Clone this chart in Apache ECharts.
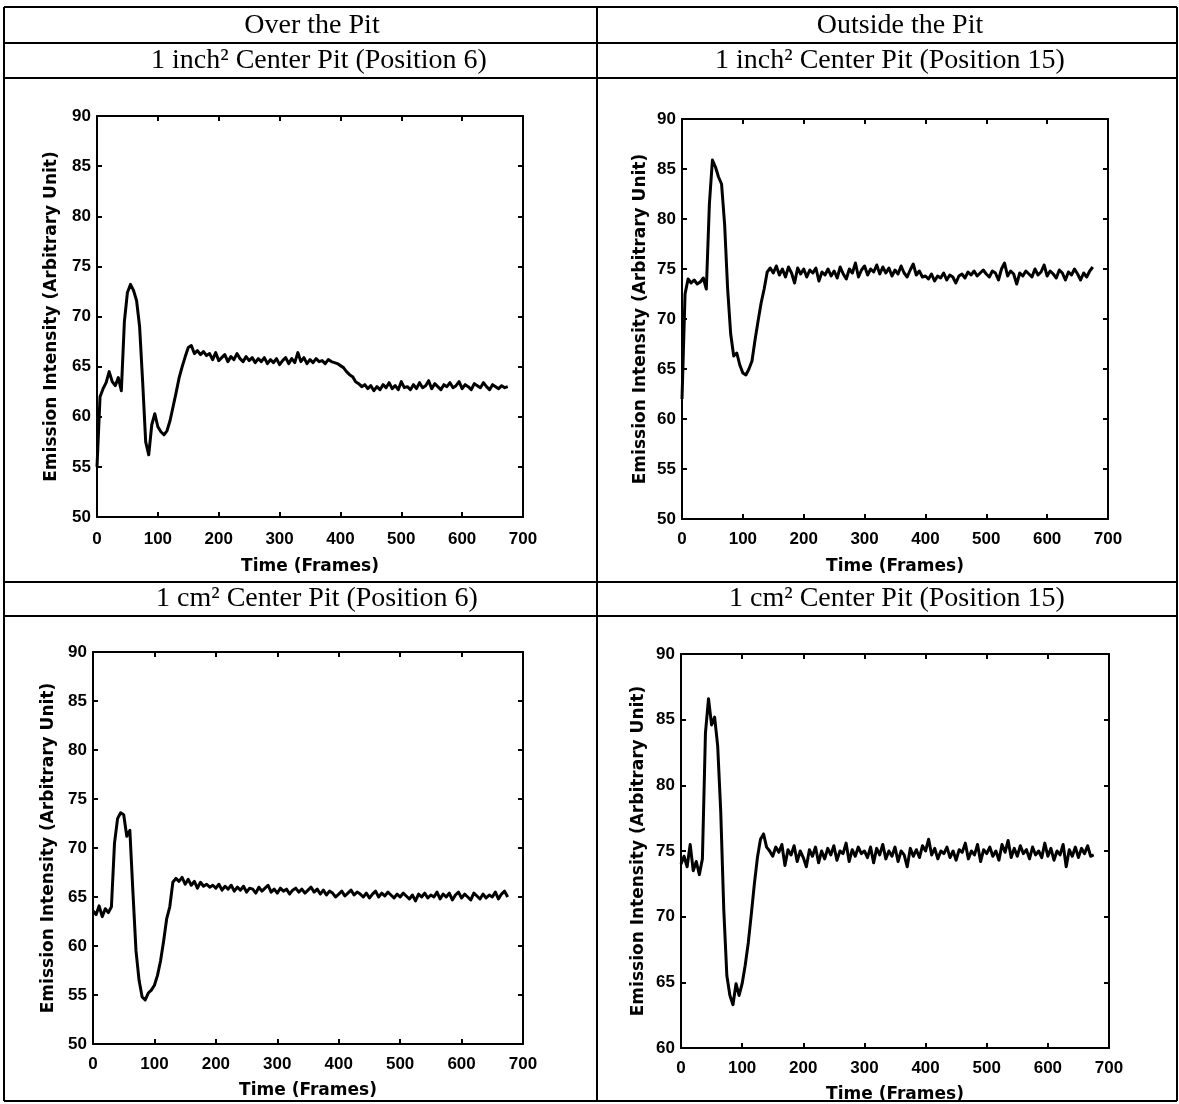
<!DOCTYPE html>
<html>
<head>
<meta charset="utf-8">
<title>Emission Intensity vs Time</title>
<script src="https://cdn.jsdelivr.net/npm/echarts@6/dist/echarts.min.js"></script>
<style>
  html, body { margin: 0; padding: 0; background: #fff; }
  #chart { width: 1179px; height: 1104px; }
</style>
</head>
<body>
<div id="chart"></div>
<script>
// Sampled frame numbers shared by all four traces
const frames = [
  0, 5, 10, 15, 20, 25, 30, 35, 40, 45,
  50, 55, 60, 65, 70, 75, 80, 85, 90, 95,
  100, 105, 110, 115, 120, 125, 130, 135, 140, 145,
  150, 155, 160, 165, 170, 175, 180, 185, 190, 195,
  200, 205, 210, 215, 220, 225, 230, 235, 240, 245,
  250, 255, 260, 265, 270, 275, 280, 285, 290, 295,
  300, 305, 310, 315, 320, 325, 330, 335, 340, 345,
  350, 355, 360, 365, 370, 375, 380, 385, 390, 395,
  400, 405, 410, 415, 420, 425, 430, 435, 440, 445,
  450, 455, 460, 465, 470, 475, 480, 485, 490, 495,
  500, 505, 510, 515, 520, 525, 530, 535, 540, 545,
  550, 555, 560, 565, 570, 575, 580, 585, 590, 595,
  600, 605, 610, 615, 620, 625, 630, 635, 640, 645,
  650, 655, 660, 665, 670, 675
];

// Over the pit, 1 inch² center pit (position 6)
const overPitInch = [
  55.0, 62.0, 62.8, 63.4, 64.5, 63.5, 63.1, 63.9, 62.6, 69.5,
  72.4, 73.2, 72.6, 71.6, 69.0, 63.5, 57.5, 56.2, 59.2, 60.3,
  59.0, 58.5, 58.2, 58.6, 59.6, 61.0, 62.4, 63.9, 65.0, 66.0,
  66.9, 67.1, 66.3, 66.6, 66.2, 66.5, 66.1, 66.3, 65.7, 66.4,
  65.6, 65.9, 66.2, 65.5, 66.0, 65.7, 66.3, 65.8, 65.5, 66.0,
  65.6, 65.9, 65.4, 65.8, 65.5, 65.9, 65.3, 65.7, 65.4, 65.8,
  65.2, 65.6, 65.9, 65.3, 65.8, 65.4, 66.4, 65.5, 65.9, 65.3,
  65.7, 65.4, 65.8, 65.5, 65.6, 65.3, 65.7, 65.5, 65.4, 65.3,
  65.1, 64.9, 64.5, 64.2, 64.0, 63.5, 63.3, 63.0, 63.2, 62.8,
  63.1, 62.6, 63.0, 62.7, 63.2, 62.9, 63.4, 62.8, 63.1, 62.7,
  63.5, 62.9, 63.0, 62.7, 63.2, 62.8, 63.4, 62.9, 63.1, 63.6,
  62.8, 63.3, 63.0, 62.7, 63.2, 63.0, 63.4, 62.9, 63.1, 63.5,
  62.8, 63.2, 63.0, 62.7, 63.3, 63.1, 62.9, 63.4, 63.0, 62.7,
  63.2, 63.0, 62.8, 63.1, 62.9, 63.0
];

// Outside the pit, 1 inch² center pit (position 15)
const outsidePitInch = [
  62.0, 72.5, 74.0, 73.6, 73.9, 73.5, 73.7, 74.1, 73.0, 81.5,
  85.9, 85.2, 84.2, 83.5, 79.5, 73.0, 68.5, 66.3, 66.6, 65.4,
  64.6, 64.4, 65.0, 65.8, 67.9, 69.8, 71.6, 73.0, 74.7, 75.1,
  74.6, 75.3, 74.4, 75.0, 74.2, 75.2, 74.6, 73.6, 75.1, 74.5,
  75.0, 74.2, 74.9, 74.6, 75.1, 73.8, 74.7, 74.4, 75.0, 74.3,
  74.8, 74.1, 75.2, 74.5, 74.0, 75.0, 74.6, 75.6, 74.2, 74.9,
  75.3, 74.4, 75.0, 74.7, 75.4, 74.5, 75.2, 74.6, 75.1, 74.3,
  74.9, 74.5, 75.3, 74.6, 74.2, 74.9, 75.5, 74.4, 74.8, 74.2,
  74.3, 74.0, 74.5, 73.8, 74.3, 74.1, 74.6, 73.9, 74.4, 74.2,
  73.6, 74.3, 74.5, 74.1, 74.7, 74.4, 74.8, 74.3, 74.6, 74.9,
  74.5, 74.2, 74.8, 74.6, 73.9, 75.0, 75.6, 74.3, 74.8, 74.5,
  73.5, 74.6, 74.3, 74.8, 74.5, 74.2, 75.0, 74.4, 74.7, 75.4,
  74.3, 74.8, 74.5, 74.1, 74.9, 74.6, 73.9, 74.7, 74.4, 75.0,
  74.5, 73.9, 74.6, 74.2, 74.8, 75.2
];

// Over the pit, 1 cm² center pit (position 6)
const overPitCm = [
  63.6, 63.2, 64.1, 63.0, 63.8, 63.4, 64.0, 70.5, 73.0, 73.6,
  73.4, 71.2, 71.8, 65.5, 59.5, 56.5, 54.8, 54.5, 55.2, 55.5,
  56.0, 57.0, 58.5, 60.5, 62.8, 64.0, 66.5, 66.9, 66.6, 67.0,
  66.3, 66.8, 66.2, 66.6, 65.9, 66.5, 66.1, 66.3, 66.0, 66.2,
  65.9, 66.3, 65.7, 66.1, 65.8, 66.2, 65.6, 66.0, 65.7, 66.1,
  65.5, 65.9, 65.8, 65.4, 66.0, 65.6, 65.9, 66.2, 65.5, 65.8,
  65.4, 65.9, 65.6, 65.8, 65.3, 65.7, 65.9, 65.5, 65.8, 65.4,
  65.7, 66.0, 65.5, 65.8, 65.3, 65.7, 65.2, 65.6, 65.4, 65.0,
  65.3, 65.6, 65.1, 65.4, 65.7, 65.2, 65.5, 65.3, 65.0, 65.4,
  64.9, 65.3, 65.6, 65.0, 65.4, 65.1, 65.5, 65.2, 64.9, 65.3,
  65.0, 65.4, 65.1, 64.8, 65.2, 64.6, 65.3, 65.0, 65.4, 64.9,
  65.2, 65.0, 65.5, 64.8, 65.3, 65.0, 65.4, 64.7, 65.2, 65.5,
  64.9, 65.3, 65.0, 64.7, 65.4, 65.1, 64.8, 65.3, 64.9, 65.2,
  65.0, 65.5, 64.8, 65.3, 65.6, 65.0
];

// Outside the pit, 1 cm² center pit (position 15)
const outsidePitCm = [
  74.0, 74.6, 73.8, 75.5, 73.5, 74.2, 73.2, 74.4, 84.0, 86.6,
  84.6, 85.2, 83.0, 78.0, 70.5, 65.5, 64.0, 63.3, 64.9, 64.0,
  64.9, 66.3, 68.0, 70.2, 72.5, 74.5, 75.9, 76.3, 75.3, 75.0,
  74.6, 75.3, 74.9, 75.5, 73.9, 75.1, 74.7, 75.4, 74.2, 75.0,
  74.5, 73.8, 75.1, 74.6, 75.3, 74.1, 75.0, 74.4, 75.2, 74.7,
  75.4, 74.3, 75.0, 74.8, 75.6, 74.2, 75.1, 74.6, 75.3, 74.8,
  75.0, 74.5, 75.3, 74.1, 75.2, 74.7, 75.5, 74.4, 75.0, 74.6,
  75.3, 74.2, 75.0, 74.7, 73.8, 75.2, 74.6, 75.1, 74.5, 75.4,
  75.0, 75.9, 74.7, 75.2, 74.4, 75.0, 74.8, 75.3, 74.5, 75.0,
  74.3, 75.1, 74.9, 75.6, 74.4, 75.0, 74.7, 75.5, 74.2, 75.1,
  74.8, 75.3, 74.6, 75.0, 74.3, 75.5, 74.9, 75.8, 74.5, 75.2,
  74.6, 75.4, 74.8, 75.1, 74.4, 75.3, 74.7, 75.0, 74.5, 75.6,
  74.6, 75.2, 74.3, 75.0, 74.7, 75.5, 73.8, 75.1, 74.6, 75.3,
  74.5, 75.2, 74.8, 75.4, 74.6, 74.7
];

// Axis ranges and tick labels
const xTicks = [0, 100, 200, 300, 400, 500, 600, 700];
const yTicksA = [50, 55, 60, 65, 70, 75, 80, 85, 90];
const yTicksB = [60, 65, 70, 75, 80, 85, 90];

// Table captions
const columnHeads = ['Over the Pit', 'Outside the Pit'];
const panelTitles = [
  '1 inch² Center Pit (Position 6)',
  '1 inch² Center Pit (Position 15)',
  '1 cm² Center Pit (Position 6)',
  '1 cm² Center Pit (Position 15)'
];
const xName = 'Time (Frames)';
const yName = 'Emission Intensity (Arbitrary Unit)';

const series4 = [overPitInch, outsidePitInch, overPitCm, outsidePitCm];
const yTickSets = [yTicksA, yTicksA, yTicksA, yTicksB];

// Layout of the four plot boxes inside the table cells
const boxes = [
  { left: 97,  top: 116, width: 426, height: 401, yGap: 37, xGap: 41, xMargin: 14 },
  { left: 682, top: 119, width: 426, height: 400, yGap: 33, xGap: 39, xMargin: 12 },
  { left: 93,  top: 652, width: 430, height: 392, yGap: 36, xGap: 38, xMargin: 12 },
  { left: 681, top: 654, width: 428, height: 394, yGap: 34, xGap: 38, xMargin: 12 }
];

const INK = '#000';
const tickFont = { color: INK, fontFamily: 'Liberation Sans', fontWeight: 'bold', fontSize: 17 };
const nameFont = { color: INK, fontFamily: 'DejaVu Sans', fontWeight: 'bold', fontSize: 17 };

const grid = [], xAxis = [], yAxis = [], series = [];

series4.forEach((vals, i) => {
  const b = boxes[i];
  const yt = yTickSets[i];
  const yMin = yt[0], yMax = yt[yt.length - 1];
  const xMin = xTicks[0], xMax = xTicks[xTicks.length - 1];
  grid.push({ left: b.left, top: b.top, width: b.width, height: b.height, containLabel: false });

  const frameLine = { show: true, onZero: false, lineStyle: { color: INK, width: 2 } };
  const inTick = { show: true, inside: true, length: 5, lineStyle: { color: INK, width: 2 } };

  // bottom (labelled) and top (ticks only) x axes
  xAxis.push({
    type: 'value', gridIndex: i, position: 'bottom', min: xMin, max: xMax, interval: 100,
    axisLine: frameLine, axisTick: inTick, splitLine: { show: false },
    axisLabel: Object.assign({ margin: b.xMargin }, tickFont),
    name: xName, nameLocation: 'middle', nameGap: b.xGap, nameTextStyle: nameFont
  });
  xAxis.push({
    type: 'value', gridIndex: i, position: 'top', min: xMin, max: xMax, interval: 100,
    axisLine: frameLine, axisTick: inTick, splitLine: { show: false },
    axisLabel: { show: false }
  });
  // left (labelled) and right (ticks only) y axes
  yAxis.push({
    type: 'value', gridIndex: i, position: 'left', min: yMin, max: yMax, interval: 5,
    axisLine: frameLine, axisTick: inTick, splitLine: { show: false },
    axisLabel: Object.assign({ margin: 6 }, tickFont),
    name: yName, nameLocation: 'middle', nameGap: b.yGap, nameTextStyle: nameFont
  });
  yAxis.push({
    type: 'value', gridIndex: i, position: 'right', min: yMin, max: yMax, interval: 5,
    axisLine: frameLine, axisTick: inTick, splitLine: { show: false },
    axisLabel: { show: false }
  });

  series.push({
    type: 'line',
    xAxisIndex: i * 2,
    yAxisIndex: i * 2,
    data: frames.map((f, k) => [f, vals[k]]),
    showSymbol: false,
    symbol: 'none',
    smooth: false,
    animation: false,
    lineStyle: { color: INK, width: 3, join: 'round' }
  });
});

// Table rules and captions
const rule = (x1, y1, x2, y2) => ({
  type: 'line', shape: { x1, y1, x2, y2 },
  style: { stroke: INK, lineWidth: 2 }, silent: true
});
const caption = (text, x, y) => ({
  type: 'text', x, y,
  style: {
    text, fill: INK, fontFamily: 'Liberation Serif', fontSize: 28,
    textAlign: 'center', textVerticalAlign: 'middle'
  },
  silent: true
});

const graphic = [
  rule(4, 7, 1177, 7),
  rule(4, 43, 1177, 43),
  rule(4, 78, 1177, 78),
  rule(4, 582, 1177, 582),
  rule(4, 616, 1177, 616),
  rule(4, 1101, 1177, 1101),
  rule(4, 7, 4, 1101),
  rule(597, 7, 597, 1101),
  rule(1177, 7, 1177, 1101),
  caption(columnHeads[0], 312, 26),
  caption(columnHeads[1], 900, 26),
  caption(panelTitles[0], 319, 61),
  caption(panelTitles[1], 890, 61),
  caption(panelTitles[2], 317, 599),
  caption(panelTitles[3], 897, 599)
];

const chart = echarts.init(document.getElementById('chart'), null, { renderer: 'canvas' });
chart.setOption({
  backgroundColor: '#fff',
  animation: false,
  grid, xAxis, yAxis, series, graphic
});
</script>
</body>
</html>
